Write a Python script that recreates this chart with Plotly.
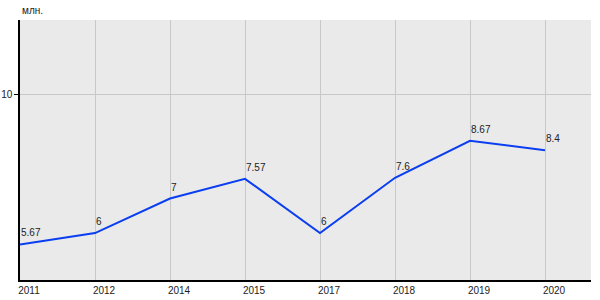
import plotly.graph_objects as go

years = ["2011", "2012", "2014", "2015", "2017", "2018", "2019", "2020"]
values = [5.67, 6, 7, 7.57, 6, 7.6, 8.67, 8.4]
labels = ["5.67", "6", "7", "7.57", "6", "7.6", "8.67", "8.4"]
unit = "млн."

FONT = dict(family="Liberation Sans, Arial", size=10, color="#222")

fig = go.Figure()
fig.add_trace(go.Scatter(
    x=years, y=values, mode="lines",
    line=dict(color="#0a3ef0", width=2),
    cliponaxis=False, hoverinfo="skip",
))

# category axis: annotation x is the category index
annotations = [dict(
    text=t, x=i, y=yv, xref="x", yref="y",
    xanchor="left", yanchor="bottom", yshift=4, xshift=-1,
    showarrow=False, font=FONT,
) for i, (yv, t) in enumerate(zip(values, labels))]
annotations.append(dict(
    text=unit, xref="paper", yref="paper", x=0, y=1,
    xanchor="left", yanchor="bottom", yshift=2, showarrow=False, font=FONT,
))

fig.update_layout(
    width=600, height=300,
    margin=dict(l=20, r=9, t=20, b=20, autoexpand=False),
    paper_bgcolor="white", plot_bgcolor="#eaeaea",
    showlegend=False,
    font=FONT,
    xaxis=dict(
        type="category", range=[0, 7.613], automargin=False,
        showgrid=True, gridcolor="#c8c8c8", gridwidth=1,
        showline=True, linecolor="black", linewidth=1.5,
        ticks="", ticklabelshift=9, ticklabelstandoff=0,
        zeroline=False, fixedrange=True,
    ),
    yaxis=dict(
        range=[4.64, 12.17], tickvals=[10], ticktext=["10"], automargin=False,
        showgrid=True, gridcolor="#c8c8c8", gridwidth=1,
        showline=True, linecolor="black", linewidth=1.5,
        ticks="outside", ticklen=4, tickcolor="black",
        zeroline=False, fixedrange=True,
    ),
    annotations=annotations,
)

fig.write_html("out.html")
